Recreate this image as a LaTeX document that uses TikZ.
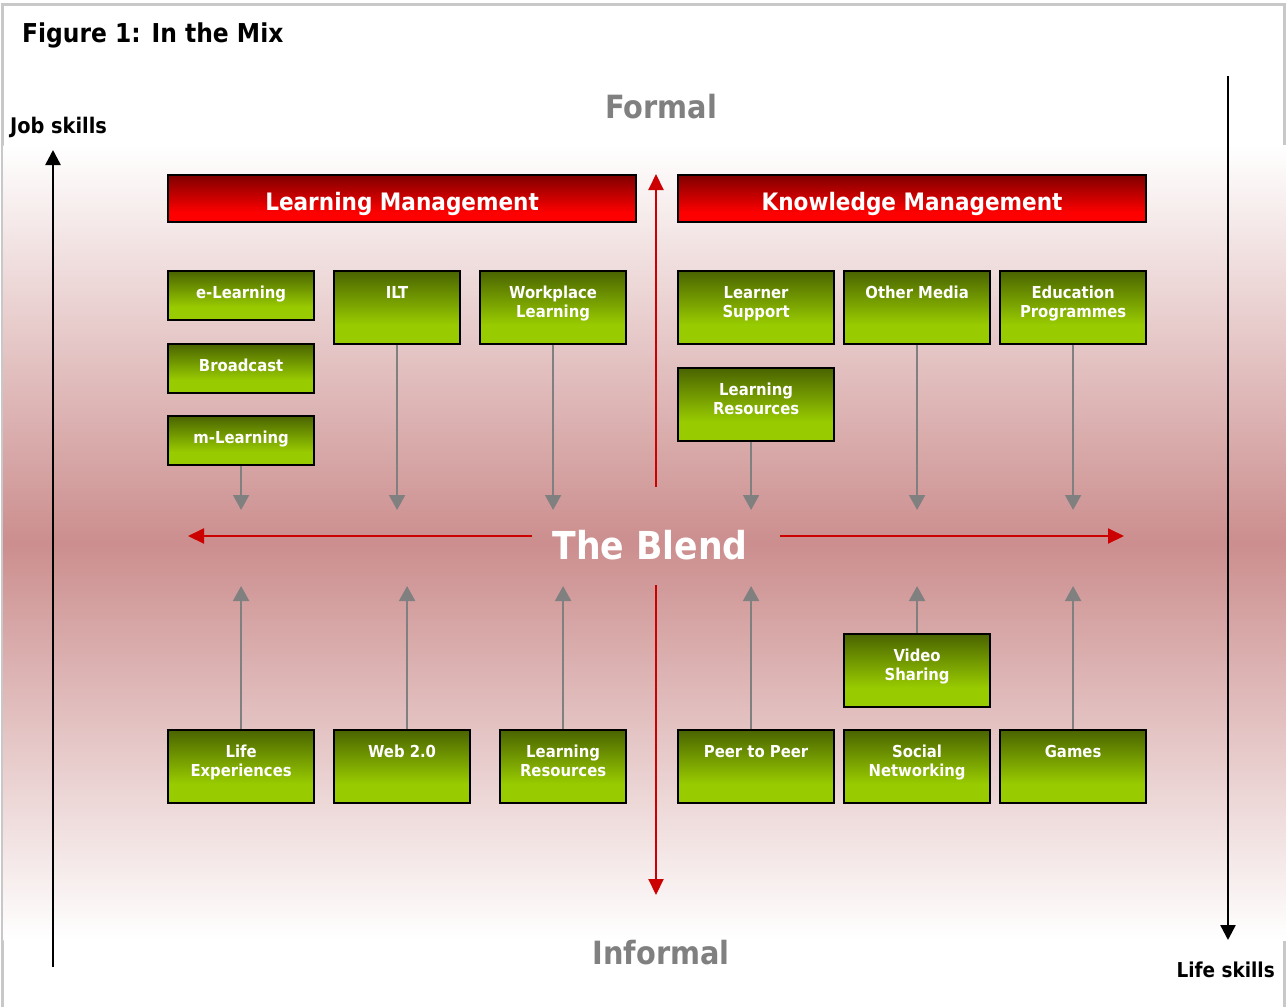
\documentclass[tikz,border=0pt]{standalone}
\usepackage{fontspec}
\setmainfont{DejaVu Sans Condensed}
\usetikzlibrary{positioning}
\usetikzlibrary{arrows.meta}

\definecolor{leafdark}{RGB}{74,100,0}
\definecolor{leaflight}{RGB}{153,204,0}
\definecolor{headdark}{RGB}{128,0,0}
\definecolor{headred}{RGB}{255,0,0}
\definecolor{blendrose}{RGB}{204,142,142}
\definecolor{axisred}{RGB}{204,0,0}
\definecolor{framegray}{RGB}{200,200,200}
\definecolor{textgray}{RGB}{128,128,128}

\pgfdeclareverticalshading{leaffade}{100bp}{color(0bp)=(leaflight); color(25bp)=(leaflight); color(38bp)=(leaflight); color(75bp)=(leafdark); color(100bp)=(leafdark)}
\pgfdeclareverticalshading{headfade}{100bp}{color(0bp)=(headred); color(25bp)=(headred); color(35bp)=(headred); color(75bp)=(headdark); color(100bp)=(headdark)}

\begin{document}
\begin{tikzpicture}[x=1pt, y=-1pt,
                          leafbox/.style={draw=black, line width=2.2pt, shading=leaffade, anchor=north west, inner sep=0pt, align=center, text=white, font=\bfseries\fontsize{16.5}{19}\selectfont, minimum width=#1, text height=27pt, text depth=22pt},
                          leafbox/.default=146pt,
                          tall/.style={text depth=46pt},
                          twoline/.style={text height=46pt, text depth=27pt},
                          headbox/.style={draw=black, line width=2.2pt, shading=headfade, anchor=north west, inner sep=0pt, minimum width=468pt, text height=35pt, text depth=12pt, text=white, font=\bfseries\fontsize{24}{28}\selectfont},
                          garrow/.style={draw=textgray, line width=2pt, -{Triangle[width=16pt,length=15pt]}},
                          raxis/.style={draw=axisred, line width=2pt, -{Triangle[width=15pt,length=16pt]}},
                          baxis/.style={draw=black, line width=2.5pt, -{Triangle[width=15pt,length=15pt]}},
                          plain/.style={inner sep=0pt, font=\bfseries\fontsize{20.5}{24}\selectfont},
                      ]
                      \useasboundingbox (0,0) rectangle (1286,1007);
                      \fill[white] (0,0) rectangle (1286,1007);

                      %Frame and band
                      \draw[framegray, line width=3pt] (2,1007) -- (2,4) -- (1284,4) -- (1284,1007);
                      \fill[top color=white, bottom color=white, middle color=blendrose] (3.5,145) rectangle (1286,940);

                      %Nodes
                      \node[plain, anchor=base west, font=\bfseries\fontsize{26}{30}\selectfont] (title) at (22,42) {Figure 1: In the Mix};
                      \node[plain, anchor=base west, font=\bfseries\fontsize{21.5}{24}\selectfont] (job) at (10,133) {Job skills};
                      \node[plain, anchor=base east]   (life)     at (1275,977) {Life skills};
                      \node[plain, anchor=base, text=textgray, font=\bfseries\fontsize{32}{36}\selectfont] (formal)   at (661,118) {Formal};
                      \node[plain, anchor=base, text=textgray, font=\bfseries\fontsize{32}{36}\selectfont] (informal) at (661,964) {Informal};
                      \node[plain, anchor=base, text=white, font=\bfseries\fontsize{38.5}{44}\selectfont]  (blend)    at (650,559) {The Blend};

                      \node[headbox]   (lm)   at (167,174)   {Learning Management};
                      \node[headbox]   (km)   at (677,174)   {Knowledge Management};

                      \node[leafbox]                   (elearn)     at (167,270) {e-Learning};
                      \node[leafbox]                   (broadcast)  at (167,343) {Broadcast};
                      \node[leafbox]                   (mlearn)     at (167,415) {m-Learning};
                      \node[leafbox=126pt, tall]       (ilt)        at (333,270) {ILT};
                      \node[leafbox, twoline]          (workplace)  at (479,270) {Workplace\\Learning};
                      \node[leafbox=156pt, twoline]    (learner)    at (677,270) {Learner\\Support};
                      \node[leafbox, tall]             (othermedia) at (843,270) {Other Media};
                      \node[leafbox, twoline]          (education)  at (999,270) {Education\\Programmes};
                      \node[leafbox=156pt, twoline]    (resources)  at (677,367) {Learning\\Resources};

                      \node[leafbox, twoline]          (video)      at (843,633) {Video\\Sharing};
                      \node[leafbox, twoline]          (lifeexp)    at (167,729) {Life\\Experiences};
                      \node[leafbox=136pt, tall]       (webtwo)     at (333,729) {Web 2.0};
                      \node[leafbox=126pt, twoline]    (libres)     at (499,729) {Learning\\Resources};
                      \node[leafbox=156pt, tall]       (peer)       at (677,729) {Peer to Peer};
                      \node[leafbox, twoline]          (social)     at (843,729) {Social\\Networking};
                      \node[leafbox, tall]             (games)      at (999,729) {Games};

                      %Axis ends
                      \coordinate (jobfoot)  at (53,967);
                      \coordinate (jobtip)   at (53,150);
                      \coordinate (lifehead) at (1228,76);
                      \coordinate (lifetip)  at (1228,940);
                      \coordinate (vup)      at (656,487);
                      \coordinate (uptip)    at (656,174);
                      \coordinate (vdown)    at (656,585);
                      \coordinate (downtip)  at (656,895);
                      \coordinate (hleft)    at (532,536);
                      \coordinate (lefttip)  at (188,536);
                      \coordinate (hright)   at (780,536);
                      \coordinate (righttip) at (1124,536);
                      \coordinate (topstop)  at (0,510);
                      \coordinate (botstop)  at (0,586);

                      %Lines
                      \draw[baxis] (jobfoot) -- (jobtip);
                      \draw[baxis] (lifehead) -- (lifetip);
                      \draw[raxis] (vup) -- (uptip);
                      \draw[raxis] (vdown) -- (downtip);
                      \draw[raxis] (hleft) -- (lefttip);
                      \draw[raxis] (hright) -- (righttip);

                      \draw[garrow] (mlearn.south) -- (mlearn.south |- topstop);
                      \draw[garrow] (ilt.south) -- (ilt.south |- topstop);
                      \draw[garrow] (workplace.south) -- (workplace.south |- topstop);
                      \draw[garrow] ([xshift=-5pt]resources.south) -- ([xshift=-5pt]resources.south |- topstop);
                      \draw[garrow] (othermedia.south) -- (othermedia.south |- topstop);
                      \draw[garrow] (education.south) -- (education.south |- topstop);

                      \draw[garrow] (lifeexp.north) -- (lifeexp.north |- botstop);
                      \draw[garrow] ([xshift=5pt]webtwo.north) -- ([xshift=5pt]webtwo.north |- botstop);
                      \draw[garrow] (libres.north) -- (libres.north |- botstop);
                      \draw[garrow] ([xshift=-5pt]peer.north) -- ([xshift=-5pt]peer.north |- botstop);
                      \draw[garrow] (video.north) -- (video.north |- botstop);
                      \draw[garrow] (games.north) -- (games.north |- botstop);
                  \end{tikzpicture}
\end{document}
